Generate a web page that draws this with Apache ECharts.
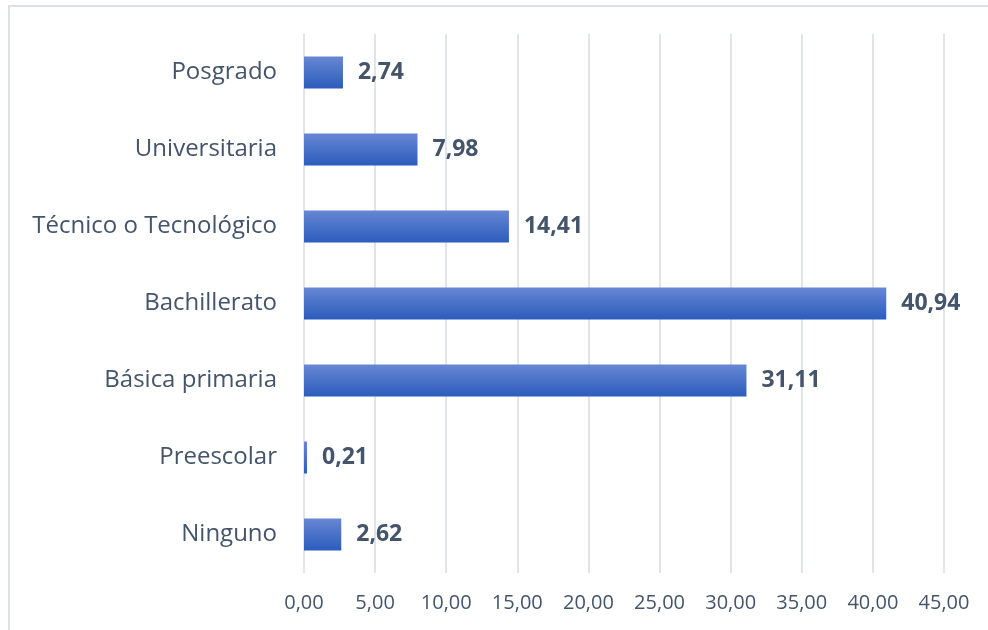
<!DOCTYPE html>
<html>
<head>
<meta charset="utf-8">
<script src="https://cdn.jsdelivr.net/npm/echarts@6/dist/echarts.min.js"></script>
<style>
  html, body { margin: 0; padding: 0; background: #fff; }
  #chart { width: 988px; height: 630px; }
</style>
</head>
<body>
<div id="chart"></div>
<script>
const categories = ['Ninguno', 'Preescolar', 'Básica primaria', 'Bachillerato', 'Técnico o Tecnológico', 'Universitaria', 'Posgrado']
const values = [2.62, 0.21, 31.11, 40.94, 14.41, 7.98, 2.74]

const fmt = v => v.toFixed(2).replace('.', ',')

const chart = echarts.init(document.getElementById('chart'))

chart.setOption({
  animation: false,
  textStyle: { fontFamily: '"Open Sans", "Noto Sans", sans-serif' },
  graphic: [{
    type: 'rect',
    shape: { x: 9, y: 6, width: 1000, height: 650 },
    style: { fill: 'none', stroke: '#dde2e8', lineWidth: 2 },
    silent: true
  }],
  grid: { left: 304, right: 44, top: 34, bottom: 57 },
  xAxis: {
    type: 'value',
    min: 0,
    max: 45,
    interval: 5,
    axisLine: { show: false },
    axisTick: { show: false },
    splitLine: { lineStyle: { color: '#e1e5ea', width: 2 } },
    axisLabel: {
      color: '#44546a',
      fontSize: 20,
      margin: 20,
      formatter: v => fmt(v)
    }
  },
  yAxis: {
    type: 'category',
    data: categories,
    axisLine: { show: false },
    axisTick: { show: false },
    axisLabel: { color: '#44546a', fontSize: 24, margin: 27 }
  },
  series: [{
    type: 'bar',
    data: values,
    barWidth: 32,
    itemStyle: {
      color: new echarts.graphic.LinearGradient(0, 0, 0, 1, [
        { offset: 0, color: '#6787d3' },
        { offset: 1, color: '#2b5cbd' }
      ])
    },
    label: {
      show: true,
      position: 'right',
      distance: 15,
      color: '#44546a',
      fontSize: 23,
      fontWeight: 'bold',
      formatter: p => fmt(p.value)
    }
  }]
})
</script>
</body>
</html>
